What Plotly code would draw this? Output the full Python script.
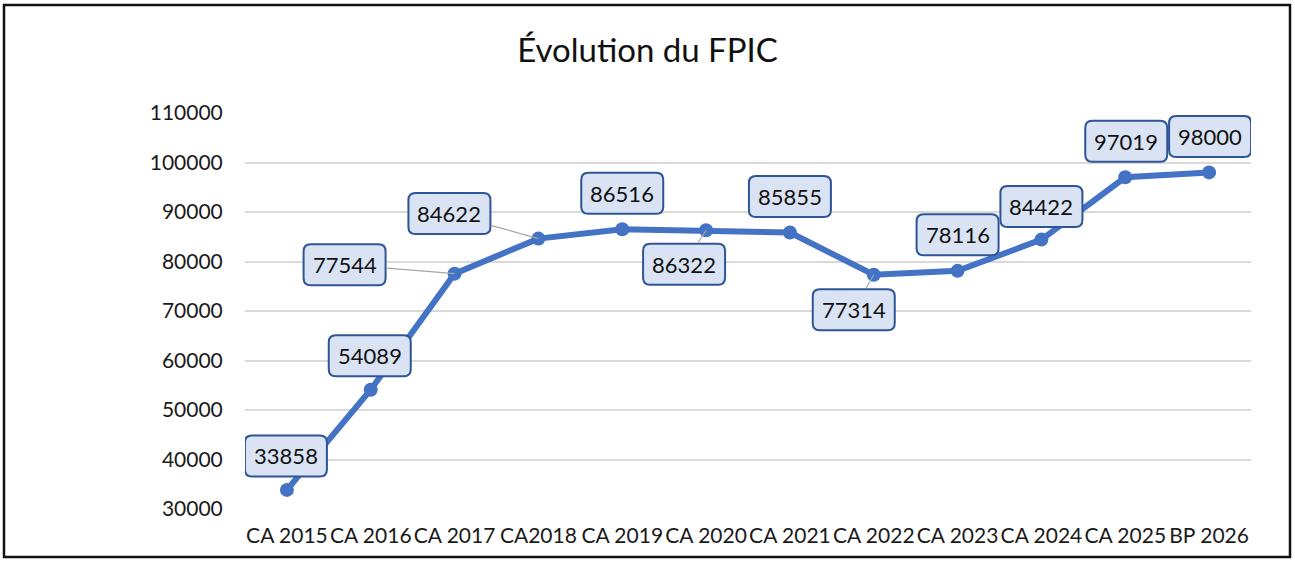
import plotly.graph_objects as go

categories = ["CA 2015", "CA 2016", "CA 2017", "CA2018", "CA 2019", "CA 2020",
              "CA 2021", "CA 2022", "CA 2023", "CA 2024", "CA 2025", "BP 2026"]
values = [33858, 54089, 77544, 84622, 86516, 86322, 85855, 77314, 78116, 84422, 97019, 98000]
y_ticks = [30000, 40000, 50000, 60000, 70000, 80000, 90000, 100000, 110000]

# label box offsets (pixels, screen: +x right, +y down) from each point
label_dx = [-1, -1, -110, -89, 0, -22, 0, -20, 0, 0, 1, 1]
label_dy = [-34, -34, -9, -25, -36, 34, -36, 35, -36, -33, -36, -36]
leader = [False, False, True, True, False, True, False, True, False, False, False, False]

FONT = "Lato, 'Open Sans', sans-serif"
BLUE = "#4472C4"
BOX_FILL = "#DAE3F3"
BOX_LINE = "#2F5597"
BW, BH, R = 82, 41, 7

W, H = 1295, 563
L, Rm, T, B = 245, 44, 113, 54
pw, ph = W - L - Rm, H - T - B

fig = go.Figure()
fig.add_trace(go.Scatter(
    x=categories, y=values, mode="lines+markers",
    line=dict(color=BLUE, width=6),
    marker=dict(color=BLUE, size=14),
    hoverinfo="skip", showlegend=False,
))


def rounded_path(cx, cy, w, h, r):
    x0, x1 = cx - w / 2, cx + w / 2
    y0, y1 = cy - h / 2, cy + h / 2
    return (f"M {x0 + r},{y0} L {x1 - r},{y0} Q {x1},{y0} {x1},{y0 + r} "
            f"L {x1},{y1 - r} Q {x1},{y1} {x1 - r},{y1} L {x0 + r},{y1} "
            f"Q {x0},{y1} {x0},{y1 - r} L {x0},{y0 + r} Q {x0},{y0} {x0 + r},{y0} Z")


shapes = []
annotations = []
for cat, v, dx, dy, ld in zip(categories, values, label_dx, label_dy, leader):
    shapes.append(dict(
        type="path", xref="x", yref="y", xsizemode="pixel", ysizemode="pixel",
        xanchor=cat, yanchor=v, path=rounded_path(dx, -dy, BW, BH, R),
        fillcolor=BOX_FILL, line=dict(color=BOX_LINE, width=2), layer="above",
    ))
    annotations.append(dict(
        x=cat, y=v, xref="x", yref="y", text=f"{v}",
        showarrow=True, ax=dx, ay=dy, axref="pixel", ayref="pixel",
        arrowhead=0, arrowwidth=1.2, standoff=0,
        arrowcolor="#A6A6A6" if ld else "rgba(0,0,0,0)",
        width=BW, height=BH, align="center", valign="middle",
        font=dict(family=FONT, size=22, color="#111111"),
    ))

# outer frame
shapes.append(dict(
    type="rect", xref="paper", yref="paper",
    x0=(4 - L) / pw, x1=(1290 - L) / pw, y0=(T + ph - 557) / ph, y1=(T + ph - 5) / ph,
    line=dict(color="#111111", width=2.5), fillcolor="rgba(0,0,0,0)", layer="below",
))

fig.update_layout(
    width=W, height=H,
    margin=dict(l=L, r=Rm, t=T, b=B),
    paper_bgcolor="white", plot_bgcolor="white",
    title=dict(text="Évolution du FPIC", x=0.5, xref="container", xanchor="center",
               y=1 - 50 / H, yref="container", yanchor="middle",
               font=dict(family=FONT, size=33, color="#111111")),
    xaxis=dict(type="category", range=[-0.5, len(categories) - 0.5],
               showgrid=False, showline=False, zeroline=False,
               tickfont=dict(family=FONT, size=21, color="#1a1a1a"),
               ticks="outside", ticklen=8, tickcolor="rgba(0,0,0,0)"),
    yaxis=dict(range=[30000, 110000], tickvals=y_ticks,
               ticktext=[str(t) for t in y_ticks],
               showgrid=True, gridcolor="#D9D9D9", gridwidth=1.5,
               showline=False, zeroline=False,
               tickfont=dict(family=FONT, size=21, color="#1a1a1a"),
               ticks="outside", ticklen=17, tickcolor="rgba(0,0,0,0)"),
    shapes=shapes,
    annotations=annotations,
)

fig.write_html("out.html", config={"displayModeBar": False},
               post_script="document.body.style.margin='0';document.body.style.overflow='hidden';")
